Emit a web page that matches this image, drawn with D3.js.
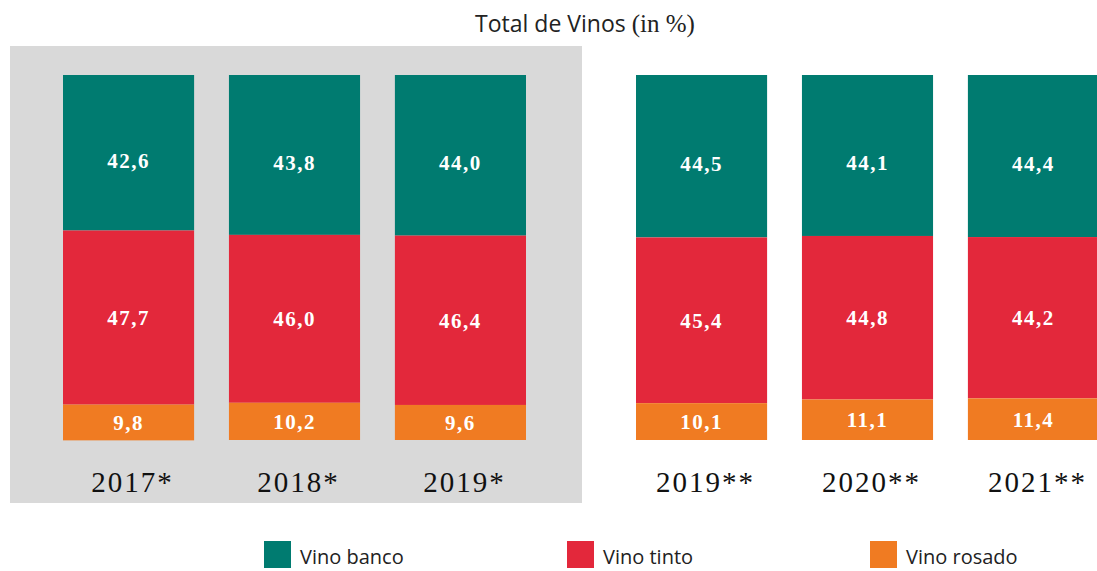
<!DOCTYPE html>
<html>
<head>
<meta charset="utf-8">
<script src="https://cdn.jsdelivr.net/npm/d3@7"></script>
<style>
  body { margin: 0; background: #fff; }
  svg { display: block; }
</style>
</head>
<body>
<svg id="chart" width="1097" height="571"></svg>
<script>
// Data
const yearsA = ["2017*", "2018*", "2019*"];
const yearsB = ["2019**", "2020**", "2021**"];
const blanco = [42.6, 43.8, 44.0, 44.5, 44.1, 44.4];
const tinto = [47.7, 46.0, 46.4, 45.4, 44.8, 44.2];
const rosado = [9.8, 10.2, 9.6, 10.1, 11.1, 11.4];
const seriesNames = ["Vino banco", "Vino tinto", "Vino rosado"];
const colors = ["#007b70", "#e3283b", "#f07b22"];

const svg = d3.select("#chart");
const barTop = 75, barBottom = 440;

const years = yearsA.concat(yearsB);
const rows = years.map((y, i) => ({ year: y, blanco: blanco[i], tinto: tinto[i], rosado: rosado[i] }));

// two groups of bars, each its own band scale
const xA = d3.scaleBand().domain(yearsA).range([63, 526]).paddingInner(0.21);
const xB = d3.scaleBand().domain(yearsB).range([636, 1099]).paddingInner(0.21);
const xPos = y => yearsA.includes(y) ? xA(y) : xB(y);
const bw = xA.bandwidth();

const yScale = d3.scaleLinear().domain([0, 100]).range([barTop, barBottom]);

// grey panel behind the first group
svg.append("rect")
    .attr("x", 10).attr("y", 46)
    .attr("width", 572).attr("height", 457)
    .attr("fill", "#d9d9d9");

// title
const title = svg.append("text")
    .attr("x", 585).attr("y", 32)
    .attr("text-anchor", "middle")
    .attr("font-size", 23)
    .attr("fill", "#222");
title.append("tspan").attr("font-family", "'Open Sans', sans-serif").text("Total de Vinos ");
title.append("tspan").attr("font-family", "'Liberation Serif', serif").attr("font-size", 25).text("(in %)");

// stack from top: blanco, tinto, rosado
const stack = d3.stack().keys(["blanco", "tinto", "rosado"]);
const layers = stack(rows);

const g = svg.append("g");
layers.forEach((layer, li) => {
    g.selectAll(".seg" + li)
        .data(layer)
        .enter().append("rect")
        .attr("x", d => xPos(d.data.year))
        .attr("y", d => yScale(d[0]))
        .attr("width", bw)
        .attr("height", d => yScale(d[1]) - yScale(d[0]))
        .attr("fill", colors[li]);

    g.selectAll(".lab" + li)
        .data(layer)
        .enter().append("text")
        .attr("x", d => xPos(d.data.year) + bw / 2)
        .attr("y", d => (yScale(d[0]) + yScale(d[1])) / 2 + (li === 0 ? 15 : 7.5))
        .attr("text-anchor", "middle")
        .attr("font-family", "'Liberation Serif', serif")
        .attr("font-weight", "bold")
        .attr("font-size", 21)
        .attr("letter-spacing", 1.5)
        .attr("fill", "#fff")
        .text(d => d3.format(".1f")(d[1] - d[0]).replace(".", ","));
});

// year labels
svg.selectAll(".year")
    .data(years)
    .enter().append("text")
    .attr("x", d => xPos(d) + bw / 2 + 4)
    .attr("y", 492)
    .attr("text-anchor", "middle")
    .attr("font-family", "'Liberation Serif', serif")
    .attr("font-size", 29)
    .attr("letter-spacing", 2)
    .attr("fill", "#111")
    .text(d => d);

// legend
const legendX = [264, 567, 870];
const legend = svg.selectAll(".legend")
    .data(seriesNames)
    .enter().append("g")
    .attr("transform", (d, i) => `translate(${legendX[i]},541)`);
legend.append("rect")
    .attr("width", 27).attr("height", 27)
    .attr("fill", (d, i) => colors[i]);
legend.append("text")
    .attr("x", 36).attr("y", 23)
    .attr("font-family", "'Open Sans', sans-serif")
    .attr("font-size", 20)
    .attr("fill", "#222")
    .text(d => d);
</script>
</body>
</html>
